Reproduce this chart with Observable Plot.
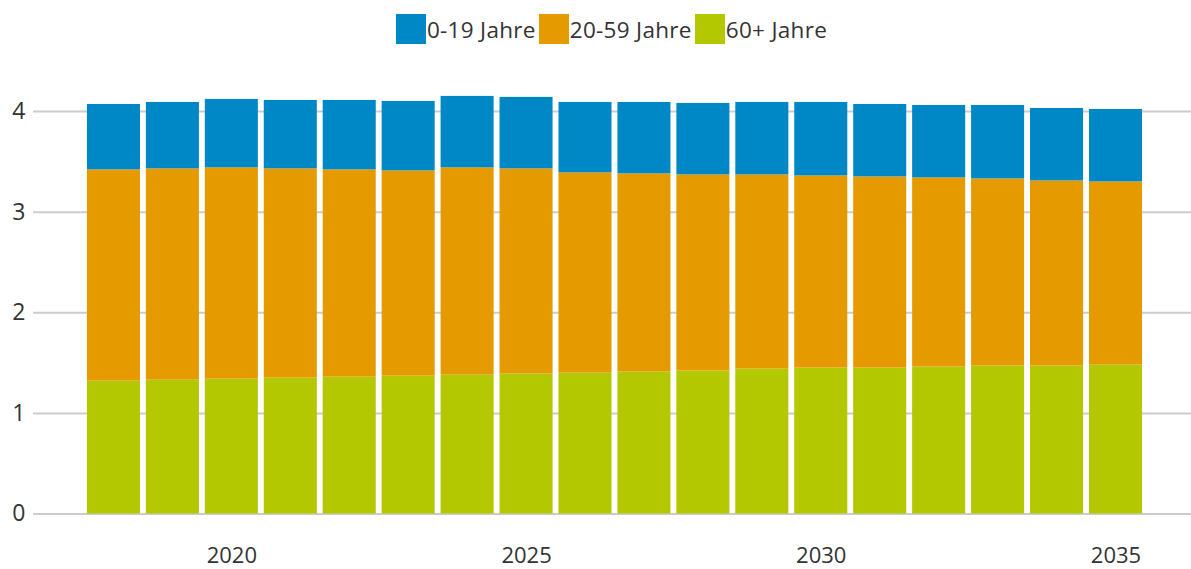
<!DOCTYPE html>
<html>
<head>
<meta charset="utf-8">
<script src="https://cdn.jsdelivr.net/npm/d3@7"></script>
<script src="https://cdn.jsdelivr.net/npm/@observablehq/plot@0.6"></script>
<style>
  html, body { margin: 0; padding: 0; background: #fff; }
  body { width: 1191px; height: 569px; overflow: hidden; font-family: "Open Sans", sans-serif; }
  #legend { height: 60px; display: flex; justify-content: center; align-items: flex-start; padding-left: 35px; box-sizing: border-box; padding-top: 14px; }
  .item { display: flex; align-items: center; margin-right: 3px; font-size: 22.5px; letter-spacing: 0.3px; color: #333; height: 30px; }
  .sw { width: 30px; height: 30px; margin-right: 1px; }
  svg { overflow: visible; }
</style>
</head>
<body>
<div id="legend"></div>
<div id="chart"></div>
<script>
const years = [2018,2019,2020,2021,2022,2023,2024,2025,2026,2027,2028,2029,2030,2031,2032,2033,2034,2035];
const age0_19  = [0.65,0.66,0.68,0.68,0.69,0.69,0.71,0.71,0.70,0.71,0.71,0.72,0.73,0.72,0.72,0.73,0.72,0.72];
const age20_59 = [2.10,2.10,2.10,2.08,2.06,2.04,2.06,2.04,1.99,1.97,1.95,1.93,1.91,1.90,1.88,1.86,1.84,1.82];
const age60p   = [1.32,1.33,1.34,1.35,1.36,1.37,1.38,1.39,1.40,1.41,1.42,1.44,1.45,1.45,1.46,1.47,1.47,1.48];
const groups = ["0-19 Jahre","20-59 Jahre","60+ Jahre"];
const colors = ["#0088c6","#e59a00","#b3c800"];
const yTicks = [0,1,2,3,4];
const xTickYears = [2020,2025,2030,2035];

// legend
const lg = document.getElementById("legend");
groups.forEach((g,i) => {
  const it = document.createElement("div"); it.className = "item";
  const sw = document.createElement("div"); sw.className = "sw"; sw.style.background = colors[i];
  const tx = document.createElement("span"); tx.textContent = g;
  it.appendChild(sw); it.appendChild(tx); lg.appendChild(it);
});

// long table, bottom series first so it stacks at the base
const data = [];
years.forEach((y,i) => {
  data.push({year: y, group: groups[2], value: age60p[i]});
  data.push({year: y, group: groups[1], value: age20_59[i]});
  data.push({year: y, group: groups[0], value: age0_19[i]});
});

const chart = Plot.plot({
  width: 1191,
  height: 509,
  marginTop: 51,
  marginBottom: 55.5,
  marginLeft: 33,
  marginRight: 0,
  style: {fontFamily: "Open Sans, sans-serif", fontSize: "23px", color: "#333", background: "#fff", overflow: "visible"},
  x: {type: "band", domain: years, paddingInner: 0.1, paddingOuter: 0.873, align: 0.524, round: false, label: null},
  y: {domain: [0,4], label: null},
  color: {domain: groups, range: colors},
  marks: [
    Plot.ruleY(yTicks, {stroke: "#cccccc", strokeWidth: 2}),
    Plot.barY(data, {x: "year", y: "value", fill: "group", order: null}),
    Plot.axisY(yTicks, {tickSize: 0, tickPadding: 8, tickFormat: d3.format("d"), label: null}),
    Plot.axisX(xTickYears, {tickSize: 0, tickPadding: 33, fontSize: 22, tickFormat: d3.format("d"), label: null})
  ]
});
document.getElementById("chart").appendChild(chart);
</script>
</body>
</html>
